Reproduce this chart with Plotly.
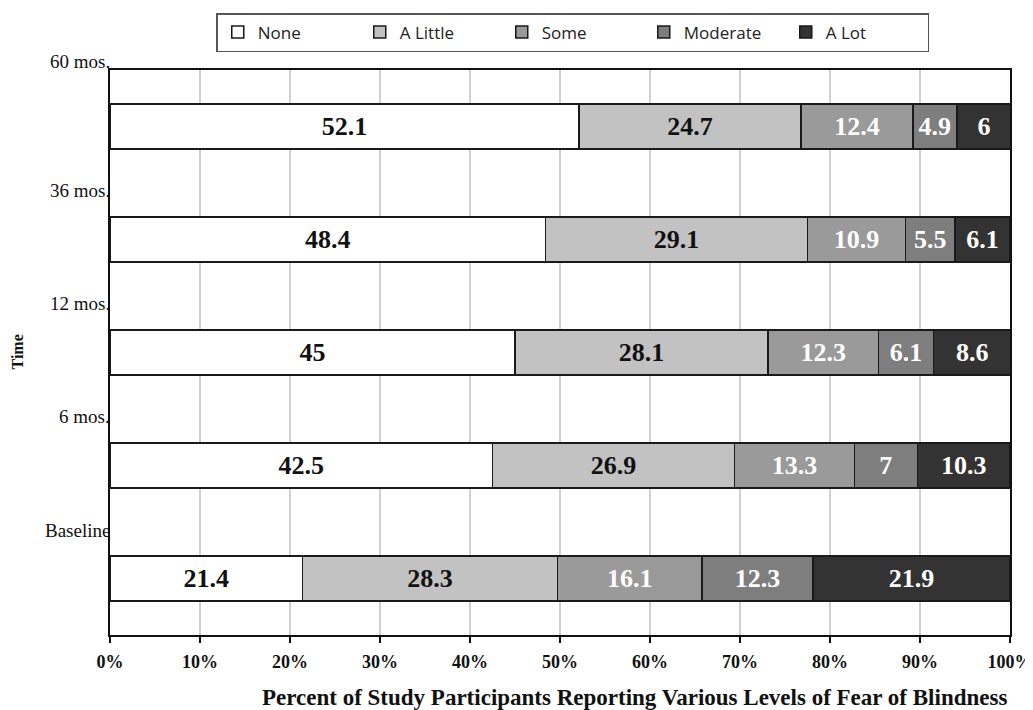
import plotly.graph_objects as go

categories = ["Baseline", "6 mos.", "12 mos.", "36 mos.", "60 mos."]
none_vals = [21.4, 42.5, 45, 48.4, 52.1]
little_vals = [28.3, 26.9, 28.1, 29.1, 24.7]
some_vals = [16.1, 13.3, 12.3, 10.9, 12.4]
moderate_vals = [12.3, 7, 6.1, 5.5, 4.9]
alot_vals = [21.9, 10.3, 8.6, 6.1, 6]
series_names = ["None", "A Little", "Some", "Moderate", "A Lot"]
x_ticks = [0, 10, 20, 30, 40, 50, 60, 70, 80, 90, 100]
x_tick_labels = ["0%", "10%", "20%", "30%", "40%", "50%", "60%", "70%", "80%", "90%", "100%"]

series_values = [none_vals, little_vals, some_vals, moderate_vals, alot_vals]
fill_colors = ["#ffffff", "#c2c2c2", "#9a9a9a", "#7e7e7e", "#333333"]
text_colors = ["#111111", "#111111", "#ffffff", "#ffffff", "#ffffff"]

serif = "Liberation Serif, Times New Roman, serif"

# page body has an 8px margin, so the figure is sized to fill the rest of the window
W, H = 1025, 702

fig = go.Figure()
for name, vals, fc, tc in zip(series_names, series_values, fill_colors, text_colors):
    fig.add_trace(go.Bar(
        name=name, y=categories, x=vals, orientation="h",
        marker=dict(color=fc, line=dict(color="#1a1a1a", width=1.5)),
        text=[f"{v:g}" for v in vals], textposition="inside",
        insidetextanchor="middle", constraintext="none",
        textfont=dict(family=serif, size=26, color=tc, weight="bold"),
        width=0.4,
    ))

label_shifts = [48, 49, 49, 49, 65]
annotations = []
for cat, sh in zip(categories, label_shifts):
    annotations.append(dict(
        text=cat, xref="paper", x=0, y=cat, yref="y", yshift=sh,
        xanchor="right", yanchor="middle", showarrow=False, xshift=2,
        font=dict(family=serif, size=19, color="#111111"),
    ))
annotations.append(dict(
    text="<b>Time</b>", xref="paper", x=0, xshift=-93, yref="paper", y=0.5,
    xanchor="center", yanchor="middle", showarrow=False, textangle=-90,
    font=dict(family=serif, size=16, color="#111111"),
))
annotations.append(dict(
    text="<b>Percent of Study Participants Reporting Various Levels of Fear of Blindness</b>",
    xref="paper", x=0.583, yref="paper", y=0, yshift=-62,
    xanchor="center", yanchor="middle", showarrow=False,
    font=dict(family=serif, size=23, color="#111111"),
))

fig.update_layout(
    width=W, height=H,
    barmode="stack",
    paper_bgcolor="white", plot_bgcolor="white",
    margin=dict(l=102, r=23, t=62, b=75, autoexpand=False),
    showlegend=True,
    legend=dict(
        orientation="h", x=0.551, xanchor="center", xref="container",
        y=1 - 5 / H, yanchor="top", yref="container",
        bordercolor="#555555", borderwidth=1.5, bgcolor="white",
        font=dict(family="Open Sans, Liberation Sans, sans-serif", size=17, color="#222222"),
        entrywidth=97, entrywidthmode="pixels", traceorder="normal",
    ),
    annotations=annotations,
    xaxis=dict(
        range=[0, 100], tickvals=x_ticks, ticktext=x_tick_labels,
        showgrid=True, gridcolor="#d0d0d0", gridwidth=1.5,
        showline=True, linecolor="#111111", linewidth=2, mirror=True,
        ticks="outside", ticklen=6, tickcolor="#111111", tickwidth=1.5,
        ticklabelstandoff=3,
        tickfont=dict(family=serif, size=18, color="#111111", weight="bold"),
        zeroline=False, fixedrange=True, automargin=False,
    ),
    yaxis=dict(
        categoryorder="array", categoryarray=categories,
        showticklabels=False, showgrid=False,
        showline=True, linecolor="#111111", linewidth=2, mirror=True,
        ticks="", range=[-0.5, 4.5],
        fixedrange=True, automargin=False,
    ),
)

fig.write_html("out.html")
